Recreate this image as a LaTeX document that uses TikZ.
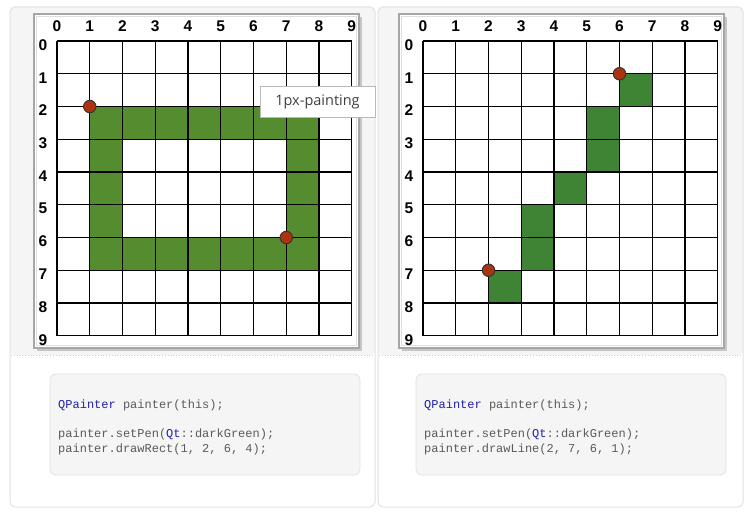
\documentclass[tikz,border=0pt]{standalone}
\usepackage{fontspec}
\newfontfamily\labelfont{Liberation Sans}
\newfontfamily\codefont{Liberation Mono}
\newfontfamily\tipfont{Open Sans}
\usepackage{tikz}
\usetikzlibrary{positioning}
\definecolor{cellbg}{RGB}{245,245,245}
\definecolor{cellline}{RGB}{226,226,226}
\definecolor{rectgreen}{RGB}{86,140,48}
\definecolor{linegreen}{RGB}{62,132,52}
\definecolor{dotred}{RGB}{170,52,16}
\definecolor{codegray}{RGB}{90,90,90}
\definecolor{codeblue}{RGB}{32,32,170}

\begin{document}
\begin{tikzpicture}[x=1pt,y=-1pt,
   cellbox/.style={draw=cellline,line width=1pt,rounded corners=5pt},
   frameline/.style={draw=gray!70,line width=1.3pt,fill=white},
   gridline/.style={line width=1.3pt,black},
   pixdot/.style={circle,draw=black!80,line width=0.9pt,fill=dotred,minimum size=12.5pt,inner sep=0pt},
   axislabel/.style={font=\labelfont\bfseries\fontsize{15.5}{15.5}\selectfont,inner sep=0pt},
   codebox/.style={draw=cellline,fill=cellbg,rounded corners=6pt,line width=0.8pt},
   codetext/.style={font=\codefont\fontsize{12}{15}\selectfont,text=codegray,anchor=base west,inner sep=0pt},
   tip/.style={draw=gray!55,fill=white,line width=0.8pt,minimum width=115pt,minimum height=31pt,
     font=\tipfont\fontsize{14.5}{15}\selectfont,text=black!75}]
\useasboundingbox[fill=white] (0,0) rectangle (751,513);

% the two table cells
\foreach \ox in {0,368}{
  \fill[cellbg,rounded corners=5pt] (10+\ox,7) rectangle (375+\ox,355);
  \draw[cellbox] (10+\ox,7) rectangle (375+\ox,507);
  \draw[gray!40,dotted,line width=0.8pt] (11+\ox,355) -- (374+\ox,355);
}

% image frames with shadow
\foreach \ox in {0,365}{
  \fill[gray!45] (37+\ox,17) rectangle (362+\ox,351);
  \draw[frameline] (34+\ox,14) rectangle (359+\ox,348);
  \draw[gray!25,line width=0.8pt] (36.5+\ox,16.5) rectangle (356.5+\ox,345.5);
}

% left grid: drawRect
\begin{scope}[shift={(57,41)},x=32.75pt,y=-32.75pt]
  \fill[rectgreen] (1,2) rectangle (8,7);
  \fill[white] (2,3) rectangle (7,6);
  \foreach \i in {0,...,9}{
    \draw[gridline] (\i,0) -- (\i,9);
    \draw[gridline] (0,\i) -- (9,\i);
    \node[axislabel] (lcol\i) at (\i,-0.46) {\i};
    \node[axislabel] (lrow\i) at (-0.43,\i+0.12) {\i};
  }
  \node[pixdot] (lstart) at (1,2) {};
  \node[pixdot] (lend) at (7,6) {};
\end{scope}

% right grid: drawLine
\begin{scope}[shift={(423,41)},x=32.75pt,y=-32.75pt]
  \foreach \c/\r in {6/1,5/2,5/3,4/4,3/5,3/6,2/7}
    \fill[linegreen] (\c,\r) rectangle (\c+1,\r+1);
  \foreach \i in {0,...,9}{
    \draw[gridline] (\i,0) -- (\i,9);
    \draw[gridline] (0,\i) -- (9,\i);
    \node[axislabel] (rcol\i) at (\i,-0.46) {\i};
    \node[axislabel] (rrow\i) at (-0.43,\i+0.12) {\i};
  }
  \node[pixdot] (rstart) at (2,7) {};
  \node[pixdot] (rend) at (6,1) {};
\end{scope}

% tooltip
\node[tip] (tooltip) at (317.5,101.5) {1px-painting};

% code snippets
\draw[codebox] (50,374) rectangle (360,475);
\draw[codebox] (416,374) rectangle (726,475);

\node[codetext] (lcode1) at (58,408) {\textcolor{codeblue}{QPainter} painter(this);};
\node[codetext] (lcode2) at ([yshift=-29pt]lcode1.base west) {painter.setPen(\textcolor{codeblue}{Qt}::darkGreen);};
\node[codetext] (lcode3) at ([yshift=-15pt]lcode2.base west) {painter.drawRect(1, 2, 6, 4);};

\node[codetext] (rcode1) at (424,408) {\textcolor{codeblue}{QPainter} painter(this);};
\node[codetext] (rcode2) at ([yshift=-29pt]rcode1.base west) {painter.setPen(\textcolor{codeblue}{Qt}::darkGreen);};
\node[codetext] (rcode3) at ([yshift=-15pt]rcode2.base west) {painter.drawLine(2, 7, 6, 1);};
\end{tikzpicture}
\end{document}
